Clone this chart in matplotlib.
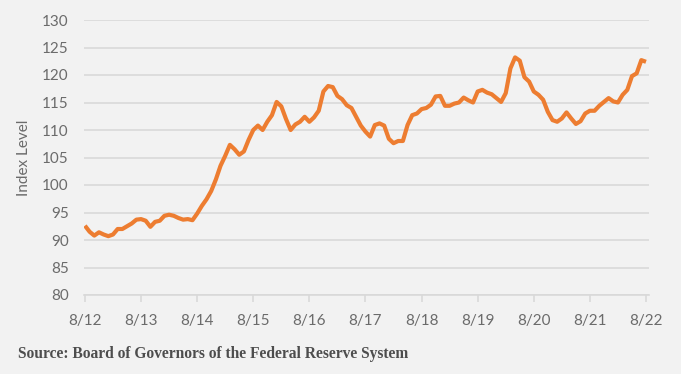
import numpy as np
import matplotlib.pyplot as plt

# monthly index level, Aug 2012 .. Aug 2022
months = np.arange(121)
index_level = [
    92.6, 91.5, 90.8, 91.4, 91.0, 90.7, 91.0, 92.0, 92.0, 92.5, 93.0, 93.7,
    93.8, 93.5, 92.4, 93.3, 93.5, 94.4, 94.6, 94.4, 94.0, 93.7, 93.8, 93.6,
    94.8, 96.2, 97.4, 98.9, 101.0, 103.5, 105.3, 107.3, 106.5, 105.5, 106.1, 108.2,
    110.0, 110.8, 110.0, 111.5, 112.7, 115.1, 114.3, 112.0, 110.0, 111.0, 111.5, 112.4,
    111.5, 112.3, 113.5, 117.0, 118.0, 117.8, 116.2, 115.6, 114.5, 114.0, 112.4, 110.8,
    109.7, 108.8, 110.9, 111.2, 110.8, 108.4, 107.6, 108.0, 108.0, 110.9, 112.7, 113.0,
    113.8, 114.0, 114.6, 116.1, 116.2, 114.4, 114.4, 114.8, 115.0, 115.9, 115.4, 115.0,
    117.0, 117.3, 116.8, 116.5, 115.8, 115.1, 116.7, 121.2, 123.2, 122.6, 119.6, 118.8,
    117.0, 116.4, 115.5, 113.3, 111.8, 111.5, 112.1, 113.2, 112.1, 111.1, 111.6, 113.0,
    113.5, 113.5, 114.4, 115.1, 115.8, 115.2, 115.0, 116.4, 117.3, 119.8, 120.3, 122.7,
    122.4,
]
year_labels = ['8/12', '8/13', '8/14', '8/15', '8/16', '8/17', '8/18', '8/19', '8/20', '8/21', '8/22']
y_ticks = list(range(80, 131, 5))

bg = '#F2F2F2'
grid_col = '#D9D9D9'
text_col = '#6B6B6B'

fig = plt.figure(figsize=(6.81, 3.74), dpi=100, facecolor=bg)
ax = fig.add_axes([84 / 681, 1 - 295 / 374, 565 / 681, 275 / 374])
ax.set_facecolor(bg)

ax.plot(months, index_level, color='#ED7D31', lw=3.0, solid_capstyle='butt', zorder=3)

ax.set_xlim(-0.2, 120.64)
ax.set_ylim(80, 130)
ax.set_yticks(y_ticks)
ax.set_xticks(np.arange(0, 121, 12))
ax.set_xticklabels(year_labels)

ax.grid(axis='y', color=grid_col, lw=1.2)
ax.set_axisbelow(True)
for s in ['top', 'right', 'left']:
    ax.spines[s].set_visible(False)
ax.spines['bottom'].set_color(grid_col)
ax.spines['bottom'].set_linewidth(1.2)

ax.tick_params(axis='y', length=0, pad=11, labelsize=11, labelcolor=text_col)
ax.tick_params(axis='x', length=5, width=1.2, color=grid_col, pad=9,
               labelsize=11, labelcolor=text_col)
for lab in ax.get_xticklabels() + ax.get_yticklabels():
    lab.set_family('Lato')

ax.set_ylabel('Index Level', fontsize=11, color=text_col, family='Lato', labelpad=8)

fig.text(18 / 681, 1 - 354 / 374, 'Source: Board of Governors of the Federal Reserve System',
         family='Liberation Serif', fontsize=11.2, weight='bold', color='#4D4D4D',
         va='center', ha='left')

fig.savefig('out.png', dpi=100, facecolor=bg)
